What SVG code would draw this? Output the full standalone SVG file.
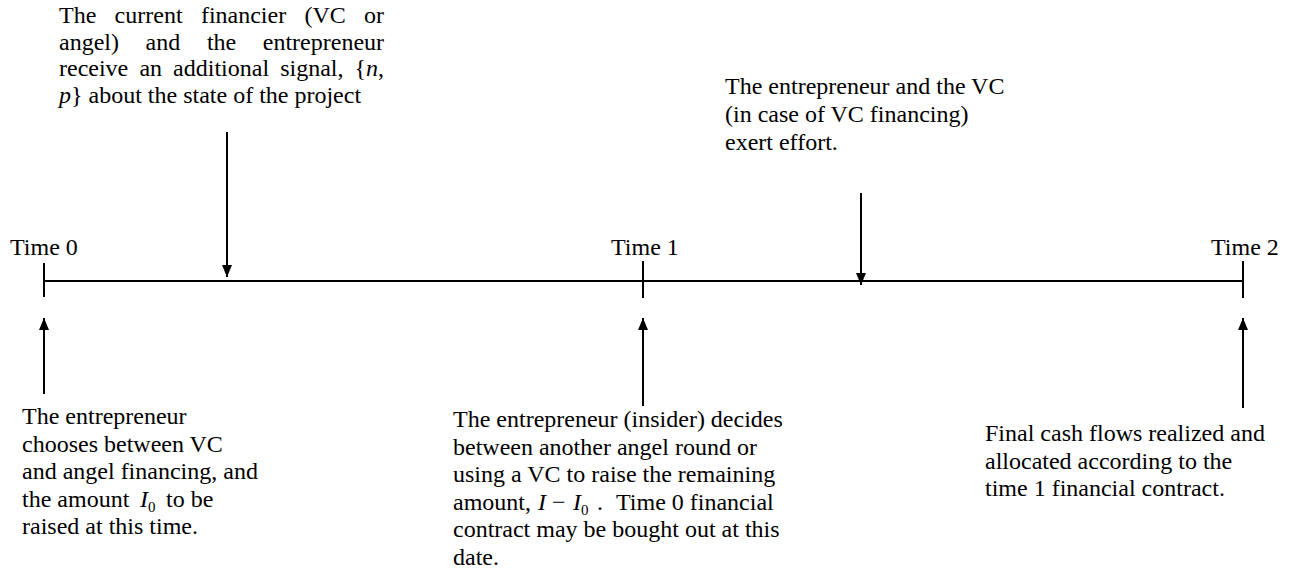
<svg xmlns="http://www.w3.org/2000/svg" width="1297" height="588" viewBox="0 0 1297 588">
<defs>
<style>
text{font-family:"Liberation Serif","Times New Roman",serif;font-size:24px;fill:#000}
.it{font-style:italic}
.sub{font-size:15px}
.ln{stroke:#000;stroke-width:2;fill:none}
</style>
<marker id="ah" viewBox="0 0 12 10" refX="12" refY="5" markerWidth="12" markerHeight="10" markerUnits="userSpaceOnUse" orient="auto">
<path d="M0,0 L12,5 L0,10 z" fill="#000"/>
</marker>
</defs>
<rect width="1297" height="588" fill="#fff"/>

<g id="timeline">
<line class="ln" x1="44" y1="281" x2="1243" y2="281"/>
<line class="ln" x1="44" y1="263" x2="44" y2="297"/>
<line class="ln" x1="643" y1="261" x2="643" y2="298"/>
<line class="ln" x1="1243" y1="261" x2="1243" y2="298"/>
<text x="10" y="255">Time 0</text>
<text x="611" y="255">Time 1</text>
<text x="1211" y="255">Time 2</text>
</g>

<g id="connectors">
<line class="ln" x1="227" y1="132" x2="227" y2="277" marker-end="url(#ah)"/>
<line class="ln" x1="861" y1="193" x2="861" y2="285" marker-end="url(#ah)"/>
<line class="ln" x1="44" y1="394" x2="44" y2="318" marker-end="url(#ah)"/>
<line class="ln" x1="643" y1="406" x2="643" y2="318" marker-end="url(#ah)"/>
<line class="ln" x1="1243" y1="408" x2="1243" y2="318" marker-end="url(#ah)"/>
</g>

<g id="signal-note">
<text y="23"><tspan x="59">The</tspan><tspan x="114.6">current</tspan><tspan x="200.9">financier</tspan><tspan x="304.5">(VC</tspan><tspan x="364.1">or</tspan></text>
<text y="49.5"><tspan x="59">angel)</tspan><tspan x="145.6">and</tspan><tspan x="206.9">the</tspan><tspan x="262.8">entrepreneur</tspan></text>
<text y="76"><tspan x="59">receive</tspan><tspan x="139.4">an</tspan><tspan x="173.1">additional</tspan><tspan x="280.2">signal,</tspan><tspan x="354.5">{<tspan class="it">n</tspan>,</tspan></text>
<text x="59" y="102.5"><tspan class="it">p</tspan>} about the state of the project</text>
</g>

<g id="effort-note">
<text x="725" y="94">The entrepreneur and the VC</text>
<text x="725" y="122">(in case of VC financing)</text>
<text x="725" y="150">exert effort.</text>
</g>

<g id="time0-note">
<text x="22" y="424">The entrepreneur</text>
<text x="22" y="451.6">chooses between VC</text>
<text x="22" y="479.2">and angel financing, and</text>
<text x="22" y="506.8">the amount</text>
<text class="it" x="140" y="506.8">I</text>
<text class="sub" x="148" y="511.8">0</text>
<text x="166" y="506.8">to be</text>
<text x="22" y="534.4">raised at this time.</text>
</g>

<g id="time1-note">
<text x="453" y="427">The entrepreneur (insider) decides</text>
<text x="453" y="454.6">between another angel round or</text>
<text x="453" y="482.2">using a VC to raise the remaining</text>
<text x="453" y="509.8">amount,</text>
<text class="it" x="538" y="509.8">I</text>
<text x="552" y="509.8">−</text>
<text class="it" x="573" y="509.8">I</text>
<text class="sub" x="581" y="514.8">0</text>
<text x="597" y="509.8">.</text>
<text x="616" y="509.8">Time 0 financial</text>
<text x="453" y="537.4">contract may be bought out at this</text>
<text x="453" y="565">date.</text>
</g>

<g id="time2-note">
<text x="985" y="441">Final cash flows realized and</text>
<text x="985" y="468.6">allocated according to the</text>
<text x="985" y="496.2">time 1 financial contract.</text>
</g>
</svg>
